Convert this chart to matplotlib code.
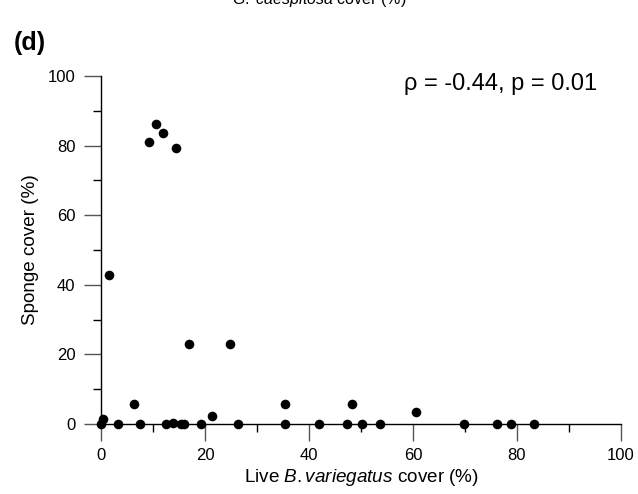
import matplotlib
matplotlib.use("Agg")
import matplotlib.pyplot as plt
from matplotlib.ticker import MultipleLocator

plt.rcParams['font.family'] = ['Liberation Sans', 'DejaVu Sans']
plt.rcParams['mathtext.fontset'] = 'custom'
plt.rcParams['mathtext.rm'] = 'Liberation Sans'
plt.rcParams['mathtext.it'] = 'Liberation Sans:italic'

# Data: live B. variegatus cover (%) vs sponge cover (%)
bv_cover = [10.5, 11.9, 9.2, 14.5, 1.6, 0.3, 0.0, 3.2, 6.3, 7.5, 12.5, 13.8,
            15.3, 15.9, 16.9, 19.2, 21.3, 24.9, 26.3, 35.3, 35.4, 42.0, 47.4,
            48.2, 50.2, 53.6, 60.5, 69.8, 76.2, 78.9, 83.3]
sponge_cover = [86.3, 83.7, 81.0, 79.3, 42.8, 1.3, 0.0, 0.0, 5.7, 0.0, 0.0, 0.2,
                0.0, 0.0, 22.9, 0.0, 2.3, 23.1, 0.0, 5.7, 0.0, 0.0, 0.0,
                5.7, 0.0, 0.0, 3.4, 0.0, 0.0, 0.0, 0.0]

fig = plt.figure(figsize=(6.38, 4.94), dpi=100)
ax = fig.add_axes([101/638, 1-424/494, 520/638, 348/494])

ax.scatter(bv_cover, sponge_cover, s=48, color='black', zorder=3, clip_on=False, linewidths=0)

ax.set_xlim(0, 100)
ax.set_ylim(0, 100)
ax.spines['top'].set_visible(False)
ax.spines['right'].set_visible(False)
for s in ['left', 'bottom']:
    ax.spines[s].set_linewidth(1.0)
    ax.spines[s].set_color('black')

ax.xaxis.set_major_locator(MultipleLocator(20))
ax.xaxis.set_minor_locator(MultipleLocator(10))
ax.yaxis.set_major_locator(MultipleLocator(20))
ax.yaxis.set_minor_locator(MultipleLocator(10))
ax.tick_params(which='major', direction='out', length=12.5, width=1.0, color='#555555',
               labelsize=12, pad=5)
ax.tick_params(which='minor', direction='out', length=6, width=1.0, color='black')
ax.tick_params(axis='y', which='major', pad=6)

ax.set_xlabel(r'Live $\mathit{B.variegatus}$ cover (%)', fontsize=13.6, labelpad=3)
ax.set_ylabel('Sponge cover (%)', fontsize=13.6, labelpad=6)

ax.text(597/638, 1-84/494, 'ρ = -0.44, p = 0.01', transform=fig.transFigure,
        fontsize=17, ha='right', va='center')

fig.text(14/638, 1-43/494, '(d)', fontsize=18, fontweight='bold', ha='left', va='center')
fig.text(319/638, 1-4/494, r'$\mathit{G.\ caespitosa}$ cover (%)', fontsize=11.5,
         ha='center', va='baseline')

fig.savefig('out.png', dpi=100)
